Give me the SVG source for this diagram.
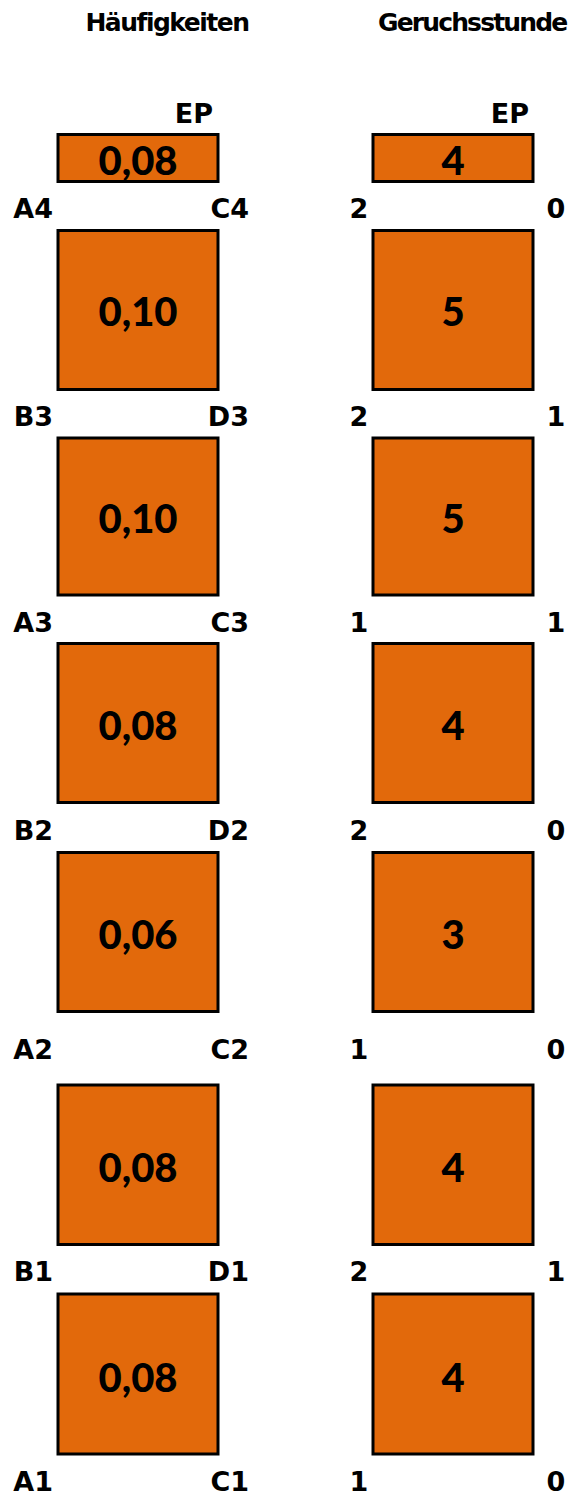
<svg xmlns="http://www.w3.org/2000/svg" width="568" height="1495" viewBox="0 0 568 1495">
  <style>
    .cell { fill: #E2690B; stroke: #000; stroke-width: 3; }
    .head { font-family: "DejaVu Sans", "Liberation Sans", sans-serif; font-weight: bold; font-size: 25px; letter-spacing: -1.5px; fill: #000; }
    .lbl { font-family: "DejaVu Sans", "Liberation Sans", sans-serif; font-weight: bold; font-size: 27px; fill: #000; }
    .val { font-family: Lato, "Liberation Sans", sans-serif; font-weight: 900; font-size: 40px; fill: #000; text-anchor: middle; }
    .r { text-anchor: end; }
    .m { text-anchor: middle; }
  </style>
  <rect width="568" height="1495" fill="#fff"/>

  <!-- column headings -->
  <g id="headings">
    <text class="head" x="167" y="31" text-anchor="middle">Häufigkeiten</text>
    <text class="head" x="378" y="31" style="letter-spacing:-1.85px">Geruchsstunde</text>
  </g>

  <!-- end point markers -->
  <g id="ep-labels">
    <text class="lbl r" x="213" y="123">EP</text>
    <text class="lbl r" x="529" y="123">EP</text>
  </g>

  <!-- left column: frequencies -->
  <g id="freq-ep">
    <rect class="cell" x="58" y="134.5" width="160" height="47"/>
    <text class="val" x="138" y="175">0,08</text>
  </g>
  <g id="freq-4">
    <rect class="cell" x="58" y="230.5" width="160" height="159"/>
    <text class="val" x="138" y="326">0,10</text>
  </g>
  <g id="freq-3b">
    <rect class="cell" x="58" y="438" width="160" height="157"/>
    <text class="val" x="138" y="533">0,10</text>
  </g>
  <g id="freq-3a">
    <rect class="cell" x="58" y="643.5" width="160" height="159"/>
    <text class="val" x="138" y="740">0,08</text>
  </g>
  <g id="freq-2b">
    <rect class="cell" x="58" y="852.5" width="160" height="159"/>
    <text class="val" x="138" y="949">0,06</text>
  </g>
  <g id="freq-2a">
    <rect class="cell" x="58" y="1085" width="160" height="159.5"/>
    <text class="val" x="138" y="1182">0,08</text>
  </g>
  <g id="freq-1">
    <rect class="cell" x="58" y="1294" width="160" height="160"/>
    <text class="val" x="138" y="1392">0,08</text>
  </g>

  <!-- right column: odour hours -->
  <g id="hours-ep">
    <rect class="cell" x="373" y="134.5" width="160" height="47"/>
    <text class="val" x="453" y="175">4</text>
  </g>
  <g id="hours-4">
    <rect class="cell" x="373" y="230.5" width="160" height="159"/>
    <text class="val" x="453" y="326">5</text>
  </g>
  <g id="hours-3b">
    <rect class="cell" x="373" y="438" width="160" height="157"/>
    <text class="val" x="453" y="533">5</text>
  </g>
  <g id="hours-3a">
    <rect class="cell" x="373" y="643.5" width="160" height="159"/>
    <text class="val" x="453" y="740">4</text>
  </g>
  <g id="hours-2b">
    <rect class="cell" x="373" y="852.5" width="160" height="159"/>
    <text class="val" x="453" y="949">3</text>
  </g>
  <g id="hours-2a">
    <rect class="cell" x="373" y="1085" width="160" height="159.5"/>
    <text class="val" x="453" y="1182">4</text>
  </g>
  <g id="hours-1">
    <rect class="cell" x="373" y="1294" width="160" height="160"/>
    <text class="val" x="453" y="1392">4</text>
  </g>

  <!-- corner point labels, left column -->
  <g id="points-left">
    <text class="lbl r" x="53" y="218">A4</text><text class="lbl r" x="249" y="218">C4</text>
    <text class="lbl r" x="53" y="426">B3</text><text class="lbl r" x="249" y="426">D3</text>
    <text class="lbl r" x="53" y="632">A3</text><text class="lbl r" x="249" y="632">C3</text>
    <text class="lbl r" x="53" y="840">B2</text><text class="lbl r" x="249" y="840">D2</text>
    <text class="lbl r" x="53" y="1059">A2</text><text class="lbl r" x="249" y="1059">C2</text>
    <text class="lbl r" x="53" y="1281">B1</text><text class="lbl r" x="249" y="1281">D1</text>
    <text class="lbl r" x="53" y="1491">A1</text><text class="lbl r" x="249" y="1491">C1</text>
  </g>

  <!-- corner counts, right column -->
  <g id="points-right">
    <text class="lbl m" x="359" y="218">2</text><text class="lbl m" x="556" y="218">0</text>
    <text class="lbl m" x="359" y="426">2</text><text class="lbl m" x="556" y="426">1</text>
    <text class="lbl m" x="359" y="632">1</text><text class="lbl m" x="556" y="632">1</text>
    <text class="lbl m" x="359" y="840">2</text><text class="lbl m" x="556" y="840">0</text>
    <text class="lbl m" x="359" y="1059">1</text><text class="lbl m" x="556" y="1059">0</text>
    <text class="lbl m" x="359" y="1281">2</text><text class="lbl m" x="556" y="1281">1</text>
    <text class="lbl m" x="359" y="1491">1</text><text class="lbl m" x="556" y="1491">0</text>
  </g>
</svg>
